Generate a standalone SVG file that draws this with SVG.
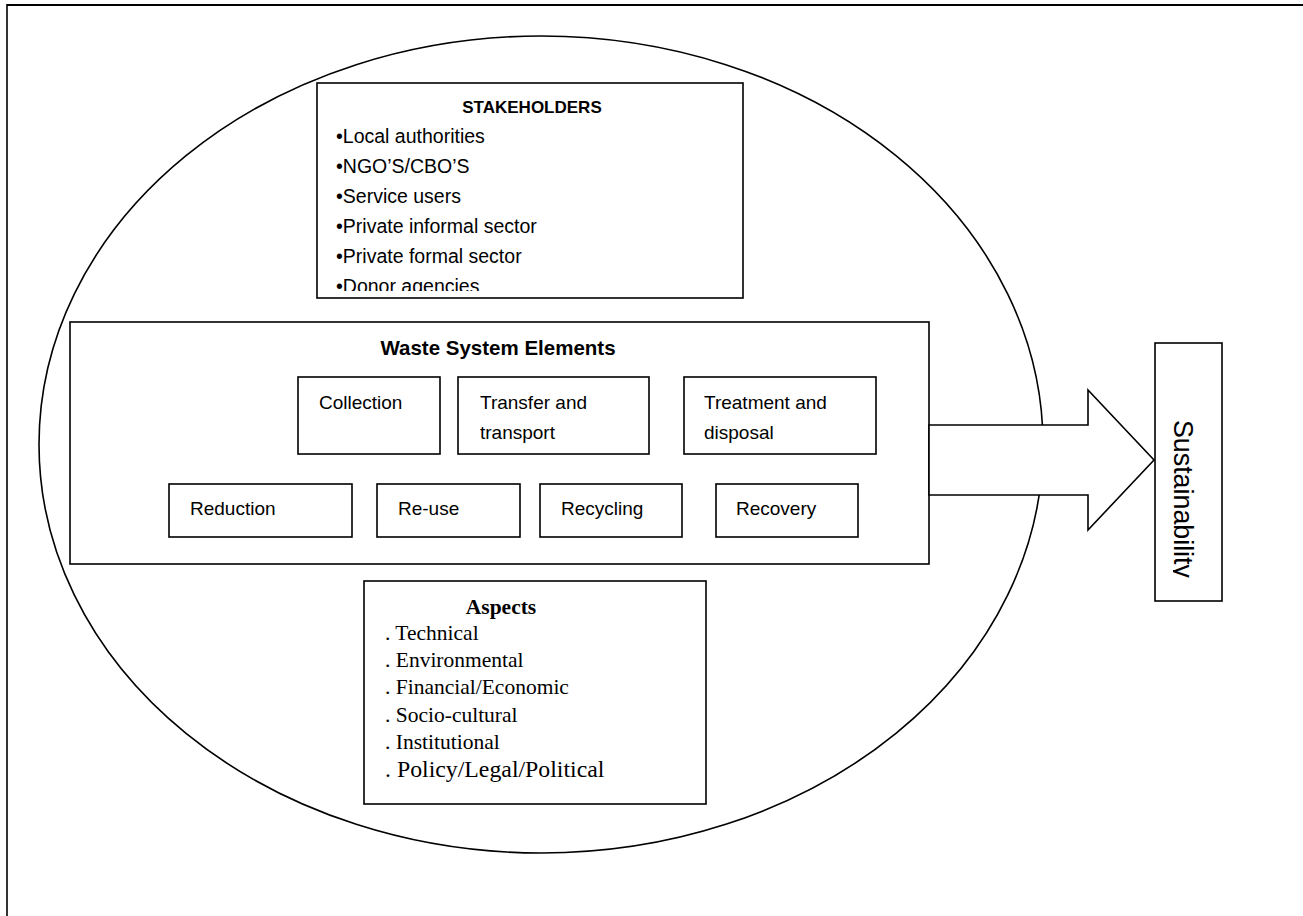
<svg xmlns="http://www.w3.org/2000/svg" width="1303" height="916" viewBox="0 0 1303 916">
<style>
.box{fill:#fff;stroke:#000;stroke-width:1.6}
.sans{font-family:"Liberation Sans",Arial,sans-serif;fill:#000}
.serif{font-family:"Liberation Serif","Times New Roman",serif;fill:#000}
.item{font-size:19.5px}
.el{font-size:19px}
.asp{font-size:21.5px}
</style>
<defs>
<clipPath id="stkClip"><rect x="318" y="84" width="424" height="207"/></clipPath>
<clipPath id="susClip"><rect x="1173" y="345" width="48" height="254"/></clipPath>
</defs>
<g id="frame" fill="none" stroke="#000">
<line x1="7" y1="5" x2="1303" y2="5" stroke-width="2.2"/>
<line x1="7" y1="4" x2="7" y2="916" stroke-width="1.6"/>
</g>
<g id="boundary">
<ellipse cx="541" cy="444.5" rx="502" ry="408.5" fill="none" stroke="#000" stroke-width="1.6"/>
</g>
<g id="stakeholders">
<rect class="box" x="317" y="83" width="426" height="215" stroke-width="2.2"/>
<text class="sans" x="532" y="113" font-size="17px" font-weight="bold" text-anchor="middle">STAKEHOLDERS</text>
<g clip-path="url(#stkClip)" class="sans item">
<text x="336" y="143">•Local authorities</text>
<text x="336" y="173">•NGO’S/CBO’S</text>
<text x="336" y="203">•Service users</text>
<text x="336" y="233">•Private informal sector</text>
<text x="336" y="263">•Private formal sector</text>
<text x="336" y="293">•Donor agencies</text>
</g>
</g>
<g id="waste-system">
<rect class="box" x="70" y="322" width="859" height="242"/>
<text class="sans" x="498" y="355" font-size="20.5px" font-weight="bold" text-anchor="middle">Waste System Elements</text>
</g>
<g id="collection">
<rect class="box" x="298" y="377" width="142" height="77"/>
<text class="sans el" x="319" y="409">Collection</text>
</g>
<g id="transfer">
<rect class="box" x="458" y="377" width="191" height="77"/>
<text class="sans el" x="480" y="409">Transfer and</text>
<text class="sans el" x="480" y="439">transport</text>
</g>
<g id="treatment">
<rect class="box" x="684" y="377" width="192" height="77"/>
<text class="sans el" x="704" y="409">Treatment and</text>
<text class="sans el" x="704" y="439">disposal</text>
</g>
<g id="reduction">
<rect class="box" x="169" y="484" width="183" height="53"/>
<text class="sans el" x="190" y="515">Reduction</text>
</g>
<g id="reuse">
<rect class="box" x="377" y="484" width="143" height="53"/>
<text class="sans el" x="398" y="515">Re-use</text>
</g>
<g id="recycling">
<rect class="box" x="540" y="484" width="142" height="53"/>
<text class="sans el" x="561" y="515">Recycling</text>
</g>
<g id="recovery">
<rect class="box" x="716" y="484" width="142" height="53"/>
<text class="sans el" x="736" y="515">Recovery</text>
</g>
<g id="aspects">
<rect class="box" x="364" y="581" width="342" height="223"/>
<text class="serif" x="501" y="614" font-size="21.5px" font-weight="bold" text-anchor="middle">Aspects</text>
<text class="serif asp" x="385" y="640">. Technical</text>
<text class="serif asp" x="385" y="667">. Environmental</text>
<text class="serif asp" x="385" y="694">. Financial/Economic</text>
<text class="serif asp" x="385" y="722">. Socio-cultural</text>
<text class="serif asp" x="385" y="749">. Institutional</text>
<text class="serif" x="385" y="777" font-size="23.8px">. Policy/Legal/Political</text>
</g>
<g id="connectors">
<polygon points="929,425 1088,425 1088,390 1154,460 1088,530 1088,495 929,495" fill="#fff" stroke="#000" stroke-width="1.6" stroke-linejoin="miter"/>
</g>
<g id="sustainability">
<rect class="box" x="1155" y="343" width="67" height="258"/>
<g clip-path="url(#susClip)">
<text class="sans" font-size="26.8px" transform="translate(1174,420) rotate(90)">Sustainability</text>
</g>
</g>
</svg>
